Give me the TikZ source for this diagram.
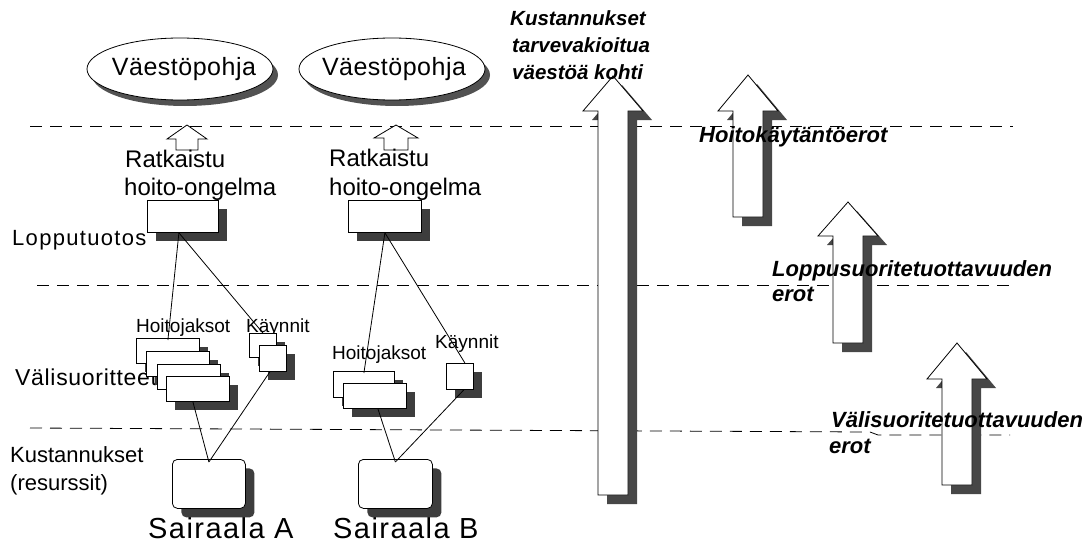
\documentclass[tikz,border=0pt]{standalone}
\usepackage{fontspec}
\setmainfont{Liberation Sans}
\usetikzlibrary{shapes.geometric,shadows}

% hollow upward block arrow: tip x, tip y, head half width, shaft half width, head base y, bottom y
\newcommand\blockarrow[6]{%
  (#1,#2) -- (#1+#3,#5) -- (#1+#4,#5) -- (#1+#4,#6) -- (#1-#4,#6) -- (#1-#4,#5) -- (#1-#3,#5) -- cycle}

\newcommand\shadedup[6]{%
  \fill[arrowshade, shift={(9,9)}] \blockarrow{#1}{#2}{#3}{#4}{#5}{#6};
  \filldraw[arrowbody] \blockarrow{#1}{#2}{#3}{#4}{#5}{#6};}

\begin{document}
\begin{tikzpicture}[x=1pt,y=-1pt,
  level/.style={dashed, dash pattern=on 12pt off 8pt, line width=0.8pt},
  boxshade/.style={drop shadow={shadow xshift=9pt, shadow yshift=-9pt, fill=black!76, opacity=1}},
  plainbox/.style={draw, fill=white, line width=0.8pt, inner sep=0pt, anchor=north west, boxshade},
  costbox/.style={plainbox, rounded corners=5pt},
  population/.style={ellipse, draw, fill=white, line width=0.8pt, inner sep=0pt,
    minimum width=186pt, minimum height=62pt,
    drop shadow={shadow xshift=5pt, shadow yshift=-6pt, fill=black!68, opacity=1}},
  poplbl/.style={inner sep=0pt, anchor=base, font=\fontsize{25}{30}\selectfont\addfontfeature{LetterSpace=2}},
  link/.style={line width=0.8pt},
  arrowshade/.style={fill=black!72},
  arrowbody/.style={fill=white, draw=black, line width=0.8pt},
  smallarrow/.style={fill=white, draw=black, line width=0.8pt},
  mainlbl/.style={anchor=base west, inner sep=0pt, font=\fontsize{24}{28}\selectfont},
  rowlbl/.style={anchor=base west, inner sep=0pt, font=\fontsize{22}{28}\selectfont},
  smalllbl/.style={anchor=base west, inner sep=0pt, font=\fontsize{19}{22}\selectfont},
  hosplbl/.style={anchor=base west, inner sep=0pt, font=\fontsize{29}{34}\selectfont\addfontfeature{LetterSpace=5}},
  difflbl/.style={anchor=base west, inner sep=0pt, font=\fontsize{22}{25}\selectfont\bfseries\itshape},
  costlbl/.style={difflbl, font=\fontsize{20.5}{26.5}\selectfont\bfseries\itshape},
]
\useasboundingbox (0,0) rectangle (1088,549);

% level separators
\draw[level] (30,126) -- (1013,126);
\draw[level] (37,285) -- (1010,285);
\draw[level] (30,428) -- (870,432) -- (878,435) -- (1010,435);

% population ellipses
\node[population] (popA) at (180,69) {};
\node[population] (popB) at (392,69) {};
\node[poplbl] (popAtxt) at (184,75) {Väestöpohja};
\node[poplbl] (popBtxt) at (394,75) {Väestöpohja};

% small outcome arrows
\filldraw[smallarrow] \blockarrow{187}{125}{20}{11}{139}{150};
\filldraw[smallarrow] \blockarrow{396}{125}{22}{12}{138}{150};

% left-hand row labels
\node[mainlbl] (solvedA1) at (125,167) {Ratkaistu};
\node[mainlbl] (solvedA2) at (124,195) {hoito-ongelma};
\node[mainlbl] (solvedB1) at (329,166) {Ratkaistu};
\node[mainlbl] (solvedB2) at (329,195) {hoito-ongelma};
\node[rowlbl, font=\fontsize{22}{28}\selectfont\addfontfeature{LetterSpace=6}] (endout) at (12,245) {Lopputuotos};
\node[rowlbl, font=\fontsize{23}{28}\selectfont\addfontfeature{LetterSpace=3}] (interm) at (15,385) {Välisuoritteet};
\node[rowlbl] (costs1) at (10,462) {Kustannukset};
\node[rowlbl] (costs2) at (10,490) {(resurssit)};
\node[smalllbl] (episA) at (136,332) {Hoitojaksot};
\node[smalllbl] (visA) at (246,332) {Käynnit};
\node[smalllbl] (episB) at (332,359) {Hoitojaksot};
\node[smalllbl] (visB) at (435,348) {Käynnit};
\node[hosplbl] (hospA) at (148,538) {Sairaala A};
\node[hosplbl] (hospB) at (333,538) {Sairaala B};

% final output boxes
\node[plainbox, minimum width=71pt, minimum height=32pt] (outA) at (147,200) {};
\node[plainbox, minimum width=73pt, minimum height=32pt] (outB) at (348,200) {};

% treatment episodes and visits, hospital A
\node[plainbox, minimum width=63pt, minimum height=25pt] (epA1) at (136,338) {};
\node[plainbox, minimum width=63pt, minimum height=25pt] (epA2) at (146,351) {};
\node[plainbox, minimum width=63pt, minimum height=25pt] (epA3) at (157,364) {};
\node[plainbox, minimum width=63pt, minimum height=25pt] (epA4) at (166,376) {};
\node[plainbox, minimum width=27pt, minimum height=24pt] (vsA1) at (249,333) {};
\node[plainbox, minimum width=27pt, minimum height=26pt] (vsA2) at (259,345) {};

% treatment episodes and visits, hospital B
\node[plainbox, minimum width=61pt, minimum height=26pt] (epB1) at (333,371) {};
\node[plainbox, minimum width=63pt, minimum height=25pt] (epB2) at (343,383) {};
\node[plainbox, minimum width=27pt, minimum height=26pt] (vsB) at (446,363) {};

% resource boxes
\node[costbox, minimum width=73pt, minimum height=49pt] (resA) at (172,459) {};
\node[costbox, minimum width=74pt, minimum height=49pt] (resB) at (358,459) {};

% production links
\draw[link] ([xshift=-4pt]outA.south) -- ([yshift=-2pt]epA1.north);
\draw[link] ([xshift=-4pt]outA.south) -- (vsA1.north);
\draw[link] ([xshift=-5pt]epA4.south) -- ([yshift=-3pt]resA.north);
\draw[link] ([xshift=-3pt]vsA2.south) -- ([yshift=-3pt]resA.north);
\draw[link] (outB.south) -- ([yshift=-2pt]epB1.north);
\draw[link] (outB.south) -- ([xshift=5pt]vsB.north);
\draw[link] ([xshift=3pt]epB2.south) -- ([yshift=-3pt]resB.north);
\draw[link] ([xshift=4pt]vsB.south) -- ([yshift=-3pt]resB.north);

% difference arrows
\shadedup{613}{76}{30}{15}{111}{495}
\shadedup{748}{75}{30}{15}{111}{217}
\shadedup{848}{202}{30}{15}{236}{343}
\shadedup{957}{343}{30}{15}{379}{485}

% difference labels, one node per line
\node[costlbl] (costpop1) at (510,25) {Kustannukset};
\node[costlbl] (costpop2) at (512,52) {tarvevakioitua};
\node[costlbl] (costpop3) at (512,79) {väestöä kohti};
\node[difflbl] (practice) at (699,142) {Hoitokäytäntöerot};
\node[difflbl] (endprod1) at (772,276) {Loppusuoritetuottavuuden};
\node[difflbl] (endprod2) at (772,301) {erot};
\node[difflbl] (intprod1) at (831,427) {Välisuoritetuottavuuden};
\node[difflbl] (intprod2) at (829,453) {erot};
\end{tikzpicture}
\end{document}
